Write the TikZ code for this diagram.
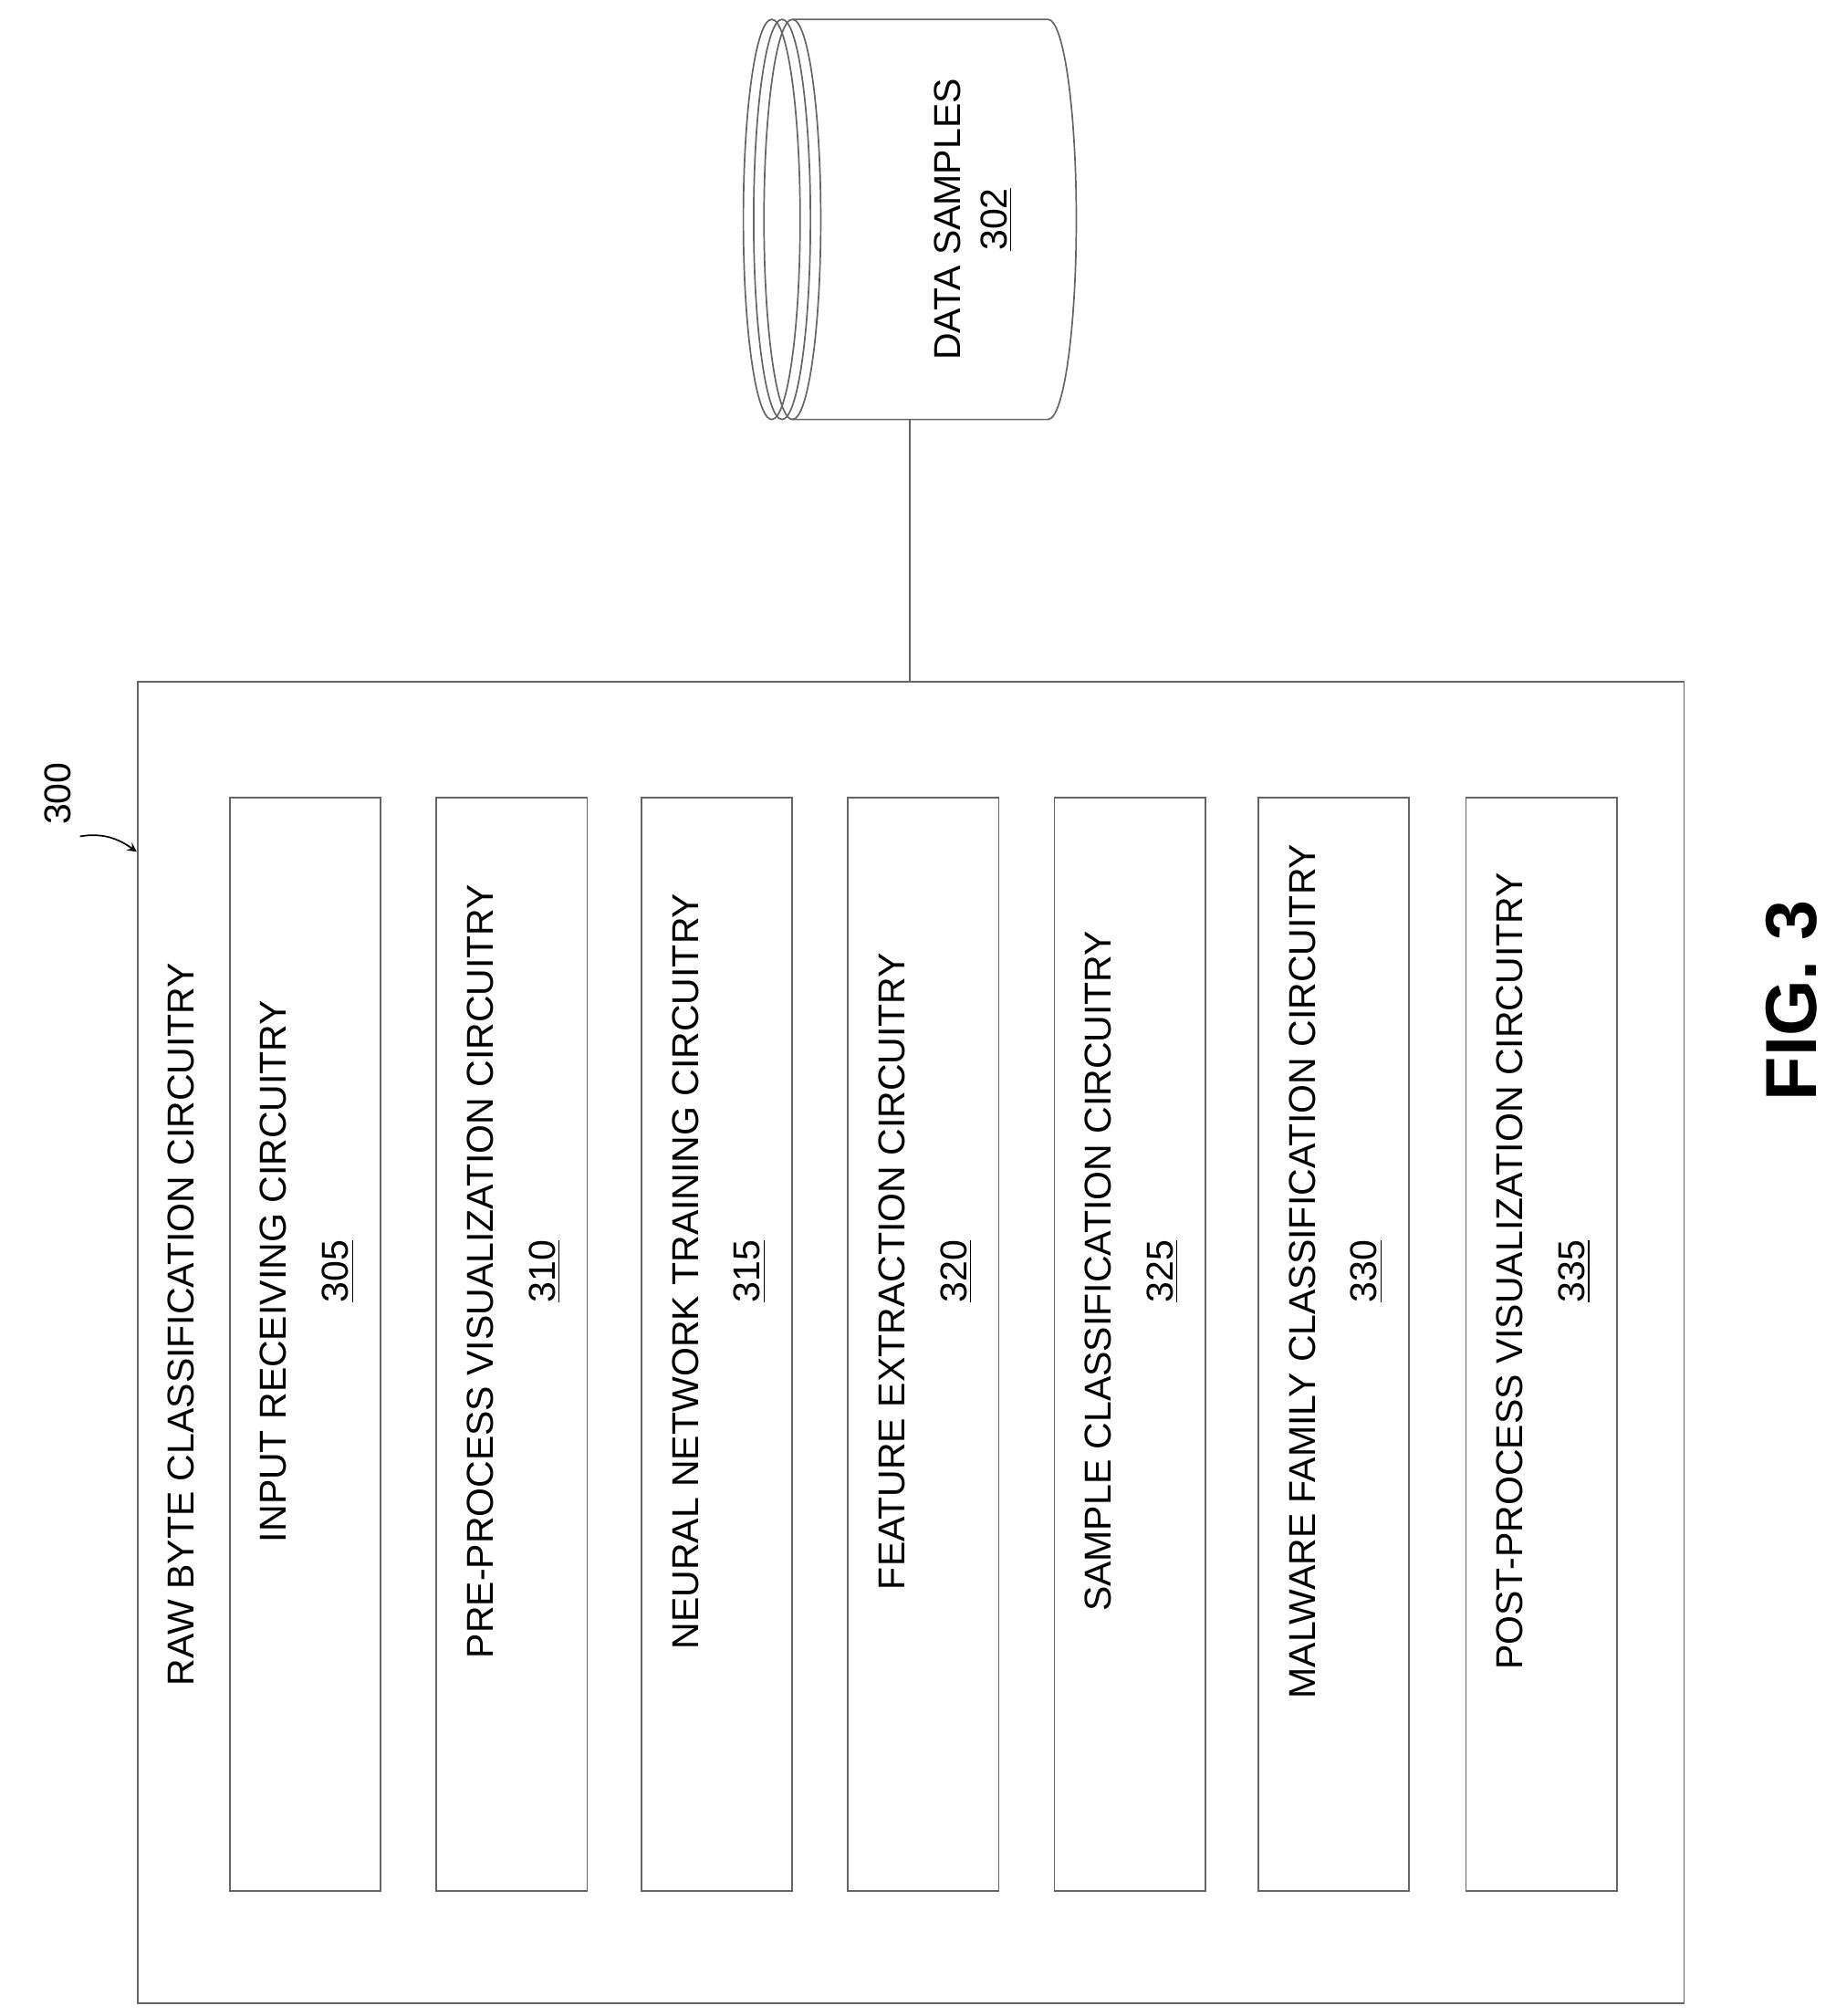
\documentclass[tikz,border=0pt]{standalone}
\usepackage{fontspec}
\setmainfont{Liberation Sans}
\usetikzlibrary{positioning}
\begin{document}
\begin{tikzpicture}[x=0.5pt,y=-0.5pt,
  line width=0.6pt, draw=black!70,
  lbl/.style={rotate=90, inner sep=0.75pt, font=\fontsize{14.5}{18}\selectfont, align=center},
  unitbox/.style={draw=black!60}]
\useasboundingbox (0,0) rectangle (1422,1562);

% data samples store
\foreach \dx in {0,8,16} {
  \draw [black!60] (598+\dx,170) ellipse [x radius=22, y radius=155];
}
\draw [black!60] (614,15) -- (812,15) arc [start angle=-90, end angle=90, x radius=22, y radius=155] -- (614,325);
\node [lbl] (samples) at (754,170) {DATA SAMPLES\\\underline{302}};
\coordinate (storebot) at (705,325);

% outer circuitry box
\draw [unitbox] (107,528) rectangle (1305,1552);
\coordinate (outertop) at (705,528);
\draw [black!60] (storebot) -- (outertop);
\node [lbl] (outer) at (140,1026) {RAW BYTE CLASSIFICATION CIRCUITRY};

% sub-circuits
\foreach \x/\name/\num in {
  178/INPUT RECEIVING CIRCUITRY/305,
  338/PRE-PROCESS VISUALIZATION CIRCUITRY/310,
  497/NEURAL NETWORK TRAINING CIRCUITRY/315,
  657/FEATURE EXTRACTION CIRCUITRY/320,
  817/SAMPLE CLASSIFICATION CIRCUITRY/325,
  975/MALWARE FAMILY CLASSIFICATION CIRCUITRY/330,
  1136/POST-PROCESS VISUALIZATION CIRCUITRY/335} {
  \draw [unitbox] (\x,618) rectangle (\x+117,1465);
  \node [lbl] (c\num) at (\x+60,985) {\name\\[6pt]\underline{\num}};
}

% reference numeral
\node [lbl] (ref) at (45,615) {300};
\coordinate (refend) at (106,660);
\draw [-stealth, black] (62,648) .. controls (80,645) and (92,650) .. (refend);

\node [rotate=90, font=\bfseries\fontsize{28}{30}\selectfont] (fig) at (1388,775) {FIG. 3};
\end{tikzpicture}
\end{document}
